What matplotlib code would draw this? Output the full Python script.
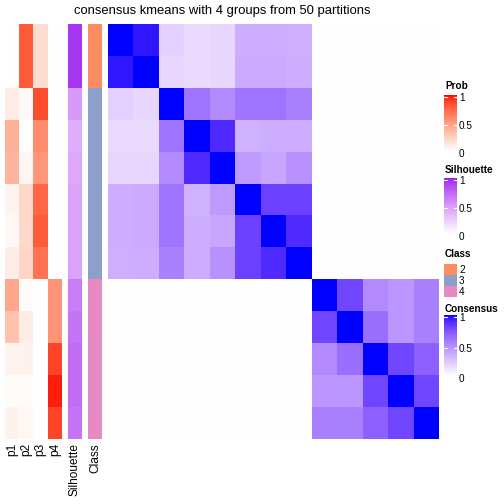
import numpy as np
import matplotlib
matplotlib.use("Agg")
import matplotlib.pyplot as plt
import matplotlib.colors as mcolors

plt.rcParams['font.family'] = ['Liberation Sans', 'DejaVu Sans']

title = "consensus kmeans with 4 groups from 50 partitions"

# membership probabilities per sample (rows in displayed order)
p1 = [0.00, 0.00, 0.10, 0.40, 0.38, 0.06, 0.03, 0.09, 0.45, 0.32, 0.06, 0.02, 0.07]
p2 = [0.80, 0.80, 0.03, 0.01, 0.05, 0.20, 0.20, 0.22, 0.02, 0.10, 0.07, 0.02, 0.04]
p3 = [0.17, 0.17, 0.85, 0.58, 0.53, 0.75, 0.80, 0.70, 0.00, 0.00, 0.00, 0.00, 0.00]
p4 = [0.00, 0.00, 0.00, 0.00, 0.00, 0.00, 0.00, 0.00, 0.55, 0.55, 0.88, 0.97, 0.88]
silhouette = [0.93, 0.93, 0.50, 0.40, 0.43, 0.45, 0.45, 0.45, 0.64, 0.68, 0.72, 0.72, 0.68]
classes = [2, 2, 3, 3, 3, 3, 3, 3, 4, 4, 4, 4, 4]
prob_names = ["p1", "p2", "p3", "p4"]
class_levels = [2, 3, 4]
class_colors = ["#FC8D62", "#8DA0CB", "#E78AC3"]

consensus = [
    [1.00, 0.96, 0.20, 0.15, 0.17, 0.35, 0.35, 0.34, 0, 0, 0, 0, 0],
    [0.96, 1.00, 0.17, 0.15, 0.17, 0.36, 0.36, 0.35, 0, 0, 0, 0, 0],
    [0.20, 0.17, 1.00, 0.60, 0.50, 0.60, 0.60, 0.55, 0, 0, 0, 0, 0],
    [0.15, 0.15, 0.60, 1.00, 0.90, 0.33, 0.35, 0.35, 0, 0, 0, 0, 0],
    [0.17, 0.17, 0.50, 0.90, 1.00, 0.43, 0.38, 0.47, 0, 0, 0, 0, 0],
    [0.35, 0.36, 0.60, 0.33, 0.43, 1.00, 0.82, 0.82, 0, 0, 0, 0, 0],
    [0.35, 0.36, 0.60, 0.35, 0.38, 0.82, 1.00, 0.90, 0, 0, 0, 0, 0],
    [0.34, 0.35, 0.55, 0.35, 0.47, 0.82, 0.90, 1.00, 0, 0, 0, 0, 0],
    [0, 0, 0, 0, 0, 0, 0, 0, 1.00, 0.80, 0.50, 0.45, 0.55],
    [0, 0, 0, 0, 0, 0, 0, 0, 0.80, 1.00, 0.62, 0.45, 0.55],
    [0, 0, 0, 0, 0, 0, 0, 0, 0.50, 0.62, 1.00, 0.80, 0.68],
    [0, 0, 0, 0, 0, 0, 0, 0, 0.45, 0.45, 0.80, 1.00, 0.80],
    [0, 0, 0, 0, 0, 0, 0, 0, 0.55, 0.55, 0.68, 0.80, 1.00],
]

WHITE = np.array([0.95047, 1.0, 1.08883])
M = np.array([[0.4124, 0.3576, 0.1805], [0.2126, 0.7152, 0.0722], [0.0193, 0.1192, 0.9505]])


def to_lab(c):
    rgb = np.array(mcolors.to_rgb(c))
    lin = np.where(rgb <= 0.04045, rgb / 12.92, ((rgb + 0.055) / 1.055) ** 2.4)
    xyz = M @ lin / WHITE
    f = np.where(xyz > 0.008856, np.cbrt(xyz), 7.787 * xyz + 16 / 116)
    return np.array([116 * f[1] - 16, 500 * (f[0] - f[1]), 200 * (f[1] - f[2])])


def from_lab(lab):
    fy = (lab[:, 0] + 16) / 116
    fx = fy + lab[:, 1] / 500
    fz = fy - lab[:, 2] / 200
    f = np.stack([fx, fy, fz], axis=1)
    xyz = np.where(f ** 3 > 0.008856, f ** 3, (f - 16 / 116) / 7.787) * WHITE
    lin = xyz @ np.linalg.inv(M).T
    lin = np.clip(lin, 0, 1)
    rgb = np.where(lin <= 0.0031308, 12.92 * lin, 1.055 * lin ** (1 / 2.4) - 0.055)
    return np.clip(rgb, 0, 1)


def lab_cmap(c1, n=256):
    a, b = to_lab("white"), to_lab(c1)
    t = np.linspace(0, 1, n)[:, None]
    return mcolors.ListedColormap(from_lab(a + (b - a) * t))


cm_prob = lab_cmap("#FF0000")
cm_sil = lab_cmap("#A020F0")
cm_cons = lab_cmap("#0000FF")

W = H = 504
fig = plt.figure(figsize=(5.04, 5.04), dpi=100)


def px_axes(x0, y0, x1, y1):
    ax = fig.add_axes([x0 / W, 1 - y1 / H, (x1 - x0) / W, (y1 - y0) / H])
    ax.set_axis_off()
    return ax


top, bot = 24, 439

ax = px_axes(5, top, 62, bot)
ax.imshow(np.array([p1, p2, p3, p4]).T, cmap=cm_prob, vmin=0, vmax=1, aspect='auto', interpolation='nearest')
ax = px_axes(68, top, 82, bot)
ax.imshow(np.array(silhouette)[:, None], cmap=cm_sil, vmin=0, vmax=1, aspect='auto', interpolation='nearest')
ax = px_axes(88, top, 102, bot)
cls_rgb = np.array([mcolors.to_rgb(class_colors[class_levels.index(c)]) for c in classes])
ax.imshow(cls_rgb[:, None, :], aspect='auto', interpolation='nearest')
ax = px_axes(108, top, 439, bot)
ax.imshow(np.array(consensus), cmap=cm_cons, vmin=0, vmax=1, aspect='auto', interpolation='nearest')

# annotation names
fs_name = 8.6
for i, name in enumerate(prob_names):
    x = 5 + (i + 0.5) * (62 - 5) / 4
    fig.text(x / W, 1 - 443 / H, name, rotation=90, ha='center', va='top', fontsize=fs_name)
fig.text(75 / W, 1 - 443 / H, "Silhouette", rotation=90, ha='center', va='top', fontsize=fs_name)
fig.text(95 / W, 1 - 443 / H, "Class", rotation=90, ha='center', va='top', fontsize=fs_name)

fig.text(222 / W, 1 - 11 / H, title, ha='center', va='center', fontsize=9.4)

# legends
fs_leg = 7.2


def colorbar_legend(name, cmap, ytitle, y0, y1):
    fig.text(445 / W, 1 - ytitle / H, name, ha='left', va='center', fontsize=fs_leg, fontweight='bold')
    ax = px_axes(444, y0, 457, y1)
    grad = np.linspace(1, 0, 200)[:, None]
    ax.imshow(grad, cmap=cmap, vmin=0, vmax=1, aspect='auto', extent=[0, 1, 0, 1])
    ax.set_xlim(0, 1)
    ax.set_ylim(0, 1)
    span = y1 - y0
    for v, lab in [(1, "1"), (0.5, "0.5"), (0, "0")]:
        ypx = y0 + 3 + (1 - v) * span
        yy = (y1 - (ypx - 1)) / span
        ax.plot([0, 0.22], [yy, yy], color='white', lw=0.8)
        ax.plot([0.78, 1], [yy, yy], color='white', lw=0.8)
        fig.text(459 / W, 1 - ypx / H, lab, ha='left', va='center', fontsize=fs_leg)


colorbar_legend("Prob", cm_prob, 86, 95, 151)
colorbar_legend("Silhouette", cm_sil, 170, 178, 234)

fig.text(445 / W, 1 - 254 / H, "Class", ha='left', va='center', fontsize=fs_leg, fontweight='bold')
for i, (lv, col) in enumerate(zip(class_levels, class_colors)):
    y0 = 264 + i * 11
    ax = px_axes(444, y0, 457, y0 + 11)
    ax.imshow(np.array(mcolors.to_rgb(col))[None, None, :], aspect='auto')
    fig.text(459 / W, 1 - (y0 + 6) / H, str(lv), ha='left', va='center', fontsize=fs_leg)

colorbar_legend("Consensus", cm_cons, 309, 315, 376)

fig.savefig("out.png", dpi=100)
